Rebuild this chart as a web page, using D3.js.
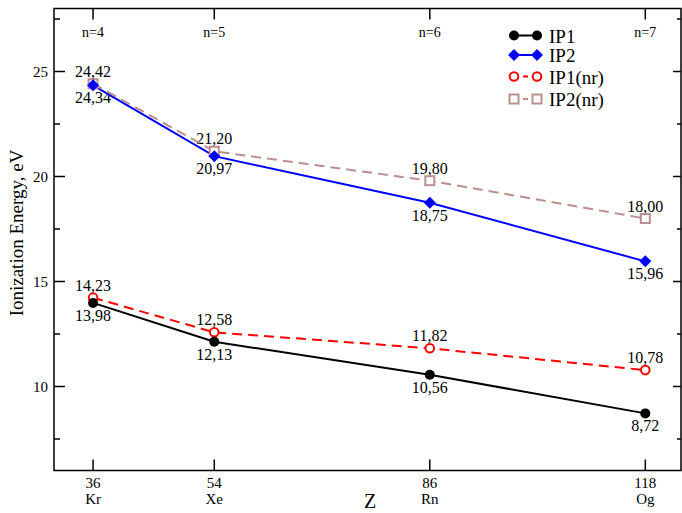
<!DOCTYPE html>
<html>

<head>
  <title>Ionization energies</title>
</head>

<body>

  <svg id="svg" width="682" height="513"></svg>

  <script src="https://d3js.org/d3.v7.min.js"></script>
  <script>
    // data
    const zValues = [36, 54, 86, 118]
    const elements = ['Kr', 'Xe', 'Rn', 'Og']
    const shells = ['n=4', 'n=5', 'n=6', 'n=7']
    const ip1 = [13.98, 12.13, 10.56, 8.72]
    const ip2 = [24.34, 20.97, 18.75, 15.96]
    const ip1nr = [14.23, 12.58, 11.82, 10.78]
    const ip2nr = [24.42, 21.20, 19.80, 18.00]
    const yTicks = [10, 15, 20, 25]
    const yMinorTicks = [7.5, 12.5, 17.5, 22.5, 27.5]

    const series = [
      { name: 'IP1', values: ip1, color: '#000000', dash: null, marker: 'circle', filled: true, above: false },
      { name: 'IP2', values: ip2, color: '#0000ff', dash: null, marker: 'diamond', filled: true, above: false },
      { name: 'IP1(nr)', values: ip1nr, color: '#ff0000', dash: '10,6', marker: 'circle', filled: false, above: true },
      { name: 'IP2(nr)', values: ip2nr, color: '#bc8f8f', dash: '10,6', marker: 'square', filled: false, above: true }
    ]

    const plotLeft = 54, plotRight = 681, plotTop = 8.5, plotBottom = 470.5

    const svg = d3.select('#svg')

    const xscale = d3.scaleLinear()
      .domain([30.2, 123.3])
      .range([plotLeft, plotRight])

    const yscale = d3.scaleLinear()
      .domain([6, 28])
      .range([plotBottom, plotTop])

    const fmt = v => v.toFixed(2).replace('.', ',')

    // draw a marker at a point
    function drawMarker(g, type, x, y, color, filled) {
      if (type === 'circle') {
        g.append('circle')
          .attr('cx', x).attr('cy', y)
          .attr('r', filled ? 5 : 4.3)
          .attr('fill', filled ? color : 'white')
          .attr('stroke', color)
          .attr('stroke-width', filled ? 0 : 2)
      } else if (type === 'diamond') {
        g.append('path')
          .attr('d', `M${x},${y - 6}L${x + 6},${y}L${x},${y + 6}L${x - 6},${y}Z`)
          .attr('fill', color)
      } else {
        g.append('rect')
          .attr('x', x - 4.5).attr('y', y - 4.5)
          .attr('width', 9).attr('height', 9)
          .attr('fill', 'white')
          .attr('stroke', color)
          .attr('stroke-width', 2)
      }
    }

    // axes ticks (inward)
    const axes = svg.append('g').attr('stroke', 'black').attr('stroke-width', 1.5)
    yTicks.forEach(t => {
      axes.append('line').attr('x1', plotLeft).attr('x2', plotLeft + 11).attr('y1', yscale(t)).attr('y2', yscale(t))
      axes.append('line').attr('x1', plotRight).attr('x2', plotRight - 8).attr('y1', yscale(t)).attr('y2', yscale(t))
    })
    yMinorTicks.forEach(t => {
      axes.append('line').attr('x1', plotLeft).attr('x2', plotLeft + 6).attr('y1', yscale(t)).attr('y2', yscale(t))
      axes.append('line').attr('x1', plotRight).attr('x2', plotRight - 4).attr('y1', yscale(t)).attr('y2', yscale(t))
    })
    zValues.forEach(z => {
      axes.append('line').attr('x1', xscale(z)).attr('x2', xscale(z)).attr('y1', plotBottom).attr('y2', plotBottom - 11)
      axes.append('line').attr('x1', xscale(z)).attr('x2', xscale(z)).attr('y1', plotTop).attr('y2', plotTop + 11)
    })

    // frame
    svg.append('rect')
      .attr('x', plotLeft).attr('y', plotTop)
      .attr('width', plotRight - plotLeft).attr('height', plotBottom - plotTop)
      .attr('fill', 'none')
      .attr('stroke', 'black')
      .attr('stroke-width', 1.5)

    // tick labels
    const labels = svg.append('g').attr('class', 'serif').attr('fill', 'black')
    yTicks.forEach(t => {
      labels.append('text').attr('x', 48).attr('y', yscale(t) + 5)
        .attr('text-anchor', 'end').attr('font-size', 15).text(t)
    })
    zValues.forEach((z, i) => {
      labels.append('text').attr('x', xscale(z)).attr('y', 488)
        .attr('text-anchor', 'middle').attr('font-size', 15).text(z)
      labels.append('text').attr('x', xscale(z)).attr('y', 504)
        .attr('text-anchor', 'middle').attr('font-size', 15).text(elements[i])
      labels.append('text').attr('x', xscale(z)).attr('y', 37)
        .attr('text-anchor', 'middle').attr('font-size', 14).text(shells[i])
    })

    // axis titles
    labels.append('text')
      .attr('x', 370).attr('y', 508)
      .attr('text-anchor', 'middle').attr('font-size', 20).text('Z')
    labels.append('text')
      .attr('transform', 'translate(23, 233) rotate(-90)')
      .attr('text-anchor', 'middle').attr('font-size', 19).text('Ionization Energy, eV')

    // series lines + markers + value labels
    const linegen = d3.line()
      .x((d, i) => xscale(zValues[i]))
      .y(d => yscale(d))

    series.forEach(s => {
      svg.append('path')
        .attr('d', linegen(s.values))
        .attr('fill', 'none')
        .attr('stroke', s.color)
        .attr('stroke-width', 2)
        .attr('stroke-dasharray', s.dash)
    })

    // filled markers go last so they sit on top
    const markG = svg.append('g')
    series.slice().reverse().forEach(s => {
      s.values.forEach((v, i) => {
        drawMarker(markG, s.marker, xscale(zValues[i]), yscale(v), s.color, s.filled)
      })
    })

    series.forEach(s => {
      s.values.forEach((v, i) => {
        labels.append('text')
          .attr('x', xscale(zValues[i]))
          .attr('y', s.above ? yscale(v) - 7 : yscale(v) + 18)
          .attr('text-anchor', 'middle')
          .attr('font-size', 16)
          .text(fmt(v))
      })
    })

    // legend
    const legend = svg.append('g').attr('class', 'serif')
    series.forEach((s, i) => {
      const ly = [35.5, 55, 76.5, 99][i]
      legend.append('line')
        .attr('x1', 514).attr('x2', 537).attr('y1', ly).attr('y2', ly)
        .attr('stroke', s.color).attr('stroke-width', 2)
        .attr('stroke-dasharray', s.dash ? '5,4' : null)
      drawMarker(legend, s.marker, 514, ly, s.color, s.filled)
      drawMarker(legend, s.marker, 537, ly, s.color, s.filled)
      legend.append('text')
        .attr('x', 549).attr('y', ly + 7)
        .attr('font-size', 19)
        .text(s.name)
    })
  </script>
</body>

<style>
  body,
  html {
    margin: 0;
    padding: 0;
    background: white;
  }

  .serif text {
    font-family: "Liberation Serif", "Times New Roman", serif;
  }
</style>

</html>
